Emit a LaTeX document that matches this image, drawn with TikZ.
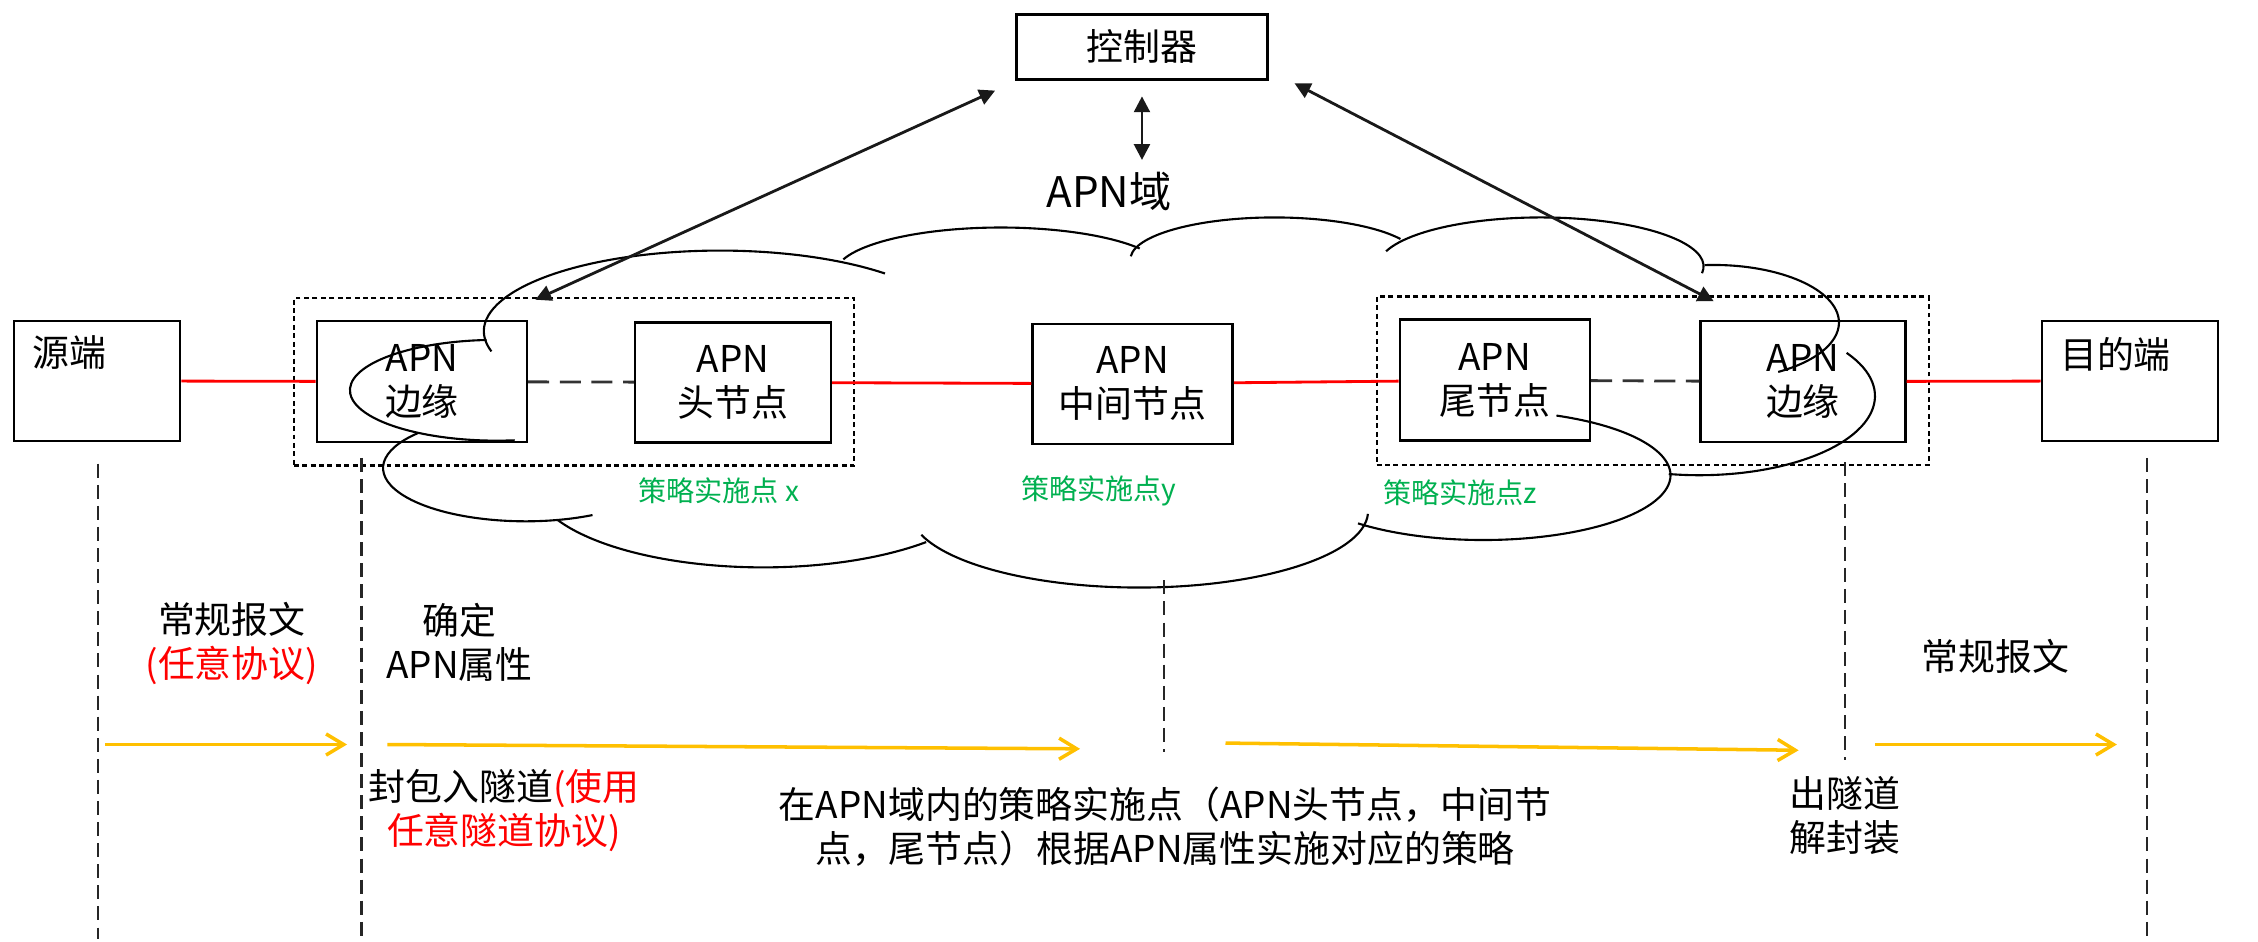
\documentclass[tikz,border=0pt]{standalone}
\usepackage{fontspec}
\setmainfont{Noto Sans CJK SC}
\usepackage{xcolor}
\usepackage{tikz}
\usetikzlibrary{positioning, arrows, arrows.meta, fit}

\definecolor{apnred}{HTML}{FF0000}
\definecolor{apngreen}{HTML}{00B050}
\definecolor{apnyellow}{HTML}{FFC000}

\tikzset{
  box/.style={draw, line width=0.7pt, inner sep=0pt, align=center, font=\fontsize{10.5}{12.5}\selectfont},
  grpbox/.style={draw, line width=0.6pt, dash pattern=on 1.4pt off 1pt, inner sep=0.22cm},
  cloudline/.style={line width=0.6pt},
  redline/.style={draw=apnred, line width=0.8pt},
  linkline/.style={draw=black!80, line width=0.8pt, dash pattern=on 6pt off 3pt},
  lifeline/.style={black!85, line width=0.6pt, dash pattern=on 4pt off 2pt},
  msg/.style={apnyellow, line width=1pt, -{Straight Barb[length=5pt,width=6pt]}},
  txt/.style={align=center, inner sep=0pt, font=\fontsize{10.5}{12.5}\selectfont},
  pep/.style={text=apngreen, inner sep=0pt, font=\fontsize{8}{10}\selectfont},
}

\begin{document}
\begin{tikzpicture}[x=0.0144cm, y=-0.0144cm, >={Triangle[length=4.5pt,width=4.5pt]}]
        \path[use as bounding box, fill=white] (0,0) rectangle (1568,654);

        % cloud of the APN domain
        \foreach \cx/\cy/\rx/\ry/\ta/\tb in {500/230/164/56/165.5/314.3, 695/190/115/32/198/327,
                885/180/100/29/184/331, 1070/185/113/34/198/368, 1190/224/87/40/266/419,
                1180/275/122/55/327/460, 1030/330/130/45/-67/132, 791/355/159/53/2/162,
                530/334/160/60/45/153, 365/325/99/37/62/221, 345/271/102/35/266/83}
            \draw[cloudline] ([shift={(\ta:{\rx} and {\ry})}]\cx,\cy) arc[start angle=\ta, end angle=\tb, x radius=\rx, y radius=\ry];

        \node[box, minimum width=2.51cm, minimum height=0.65cm] (ctrl) at (793,32.5) {控制器};
        \node[inner sep=0pt, font=\fontsize{12}{14}\selectfont] (domain) at (770,133) {APN域};

        \node[box, minimum width=1.66cm, minimum height=1.2cm] (src) at (67.5,264.5) {};
        \node[txt] (srclbl) at (48,245) {源端};
        \node[box, minimum width=2.1cm, minimum height=1.21cm] (edgeL) at (293,265) {APN\\边缘};
        \node[box, minimum width=1.96cm, minimum height=1.2cm] (head) at (509,265.5) {APN\\头节点};
        \node[box, minimum width=2.0cm, minimum height=1.2cm] (mid) at (786.5,266.5) {APN\\中间节点};
        \node[box, minimum width=1.9cm, minimum height=1.21cm] (tail) at (1038,264) {APN\\尾节点};
        \node[box, minimum width=2.05cm, minimum height=1.21cm] (edgeR) at (1252,265) {APN\\边缘};
        \node[box, minimum width=1.76cm, minimum height=1.2cm] (dst) at (1479,264.5) {};
        \node[txt] (dstlbl) at (1469,246) {目的端};

        \node[grpbox, fit=(edgeL)(head)] (grpL) {};
        \node[grpbox, fit=(tail)(edgeR)] (grpR) {};

        \node[pep] (pepx) at (499,341) {策略实施点 x};
        \node[pep] (pepy) at (763,341) {策略实施点y};
        \node[pep] (pepz) at (1014,342) {策略实施点z};

        \path[redline] (src) edge (edgeL)
                (head) edge (mid)
                (mid) edge (tail)
                (edgeR) edge (dst);
        \path (edgeL) edge[linkline] (head)
                (tail) edge[linkline] (edgeR);

        \draw[<->, line width=0.8pt, black!90] ([shift={(-14,7)}]ctrl.south west) -- ([shift={(5,-14)}]edgeL.north east);
        \draw[<->, line width=0.8pt, black!90] ([shift={(18,2)}]ctrl.south east) -- ([shift={(10,-13)}]edgeR.north west);
        \draw[<->, line width=0.8pt, black!90] ([shift={(0,11)}]ctrl.south) -- ([shift={(0,-8)}]ctrl.south |- domain.north);

        % time lines
        \foreach \x/\t/\b in {68/322/652, 251/318/650, 808/403/522, 1281/321/528, 1491/318/652}
            \draw[lifeline] (\x,\t) -- (\x,\b);

        \coordinate (m1a) at (73,517);   \coordinate (m1b) at (241,517);
        \coordinate (m2a) at (269,517);  \coordinate (m2b) at (750,520);
        \coordinate (m3a) at (851,516);  \coordinate (m3b) at (1249,521);
        \coordinate (m4a) at (1302,517); \coordinate (m4b) at (1470,517);
        \draw[msg] (m1a) -- (m1b);
        \draw[msg] (m2a) -- (m2b);
        \draw[msg] (m3a) -- (m3b);
        \draw[msg] (m4a) -- (m4b);

        \node[txt] (plainin) at (161,447) {常规报文\\\textcolor{apnred}{(任意协议)}};
        \node[txt] (attr) at (319,446) {确定\\APN属性};
        \node[txt] (encap) at (350,563) {封包入隧道\textcolor{apnred}{(使用}\\\textcolor{apnred}{任意隧道协议)}};
        \node[txt] (policy) at (809,574) {在APN域内的策略实施点（APN头节点，中间节\\点，尾节点）根据APN属性实施对应的策略};
        \node[txt] (decap) at (1281,566) {出隧道\\解封装};
        \node[txt] (plainout) at (1385.5,456) {常规报文};
\end{tikzpicture}
\end{document}
